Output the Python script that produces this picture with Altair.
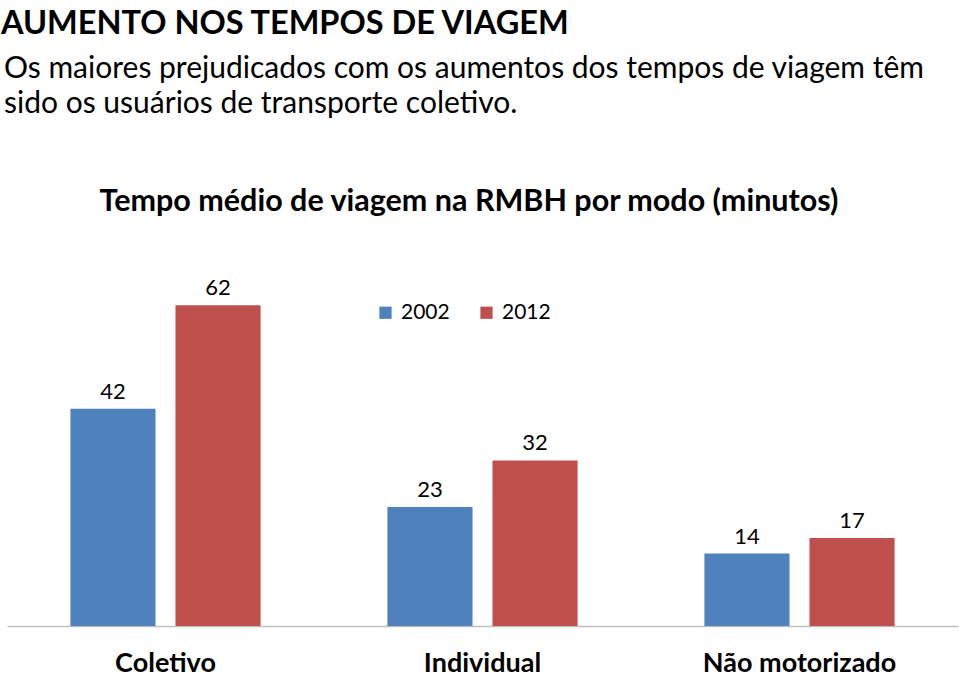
import altair as alt
import pandas as pd

categories = ["Coletivo", "Individual", "Não motorizado"]
years = ["2002", "2012"]
values_2002 = [42, 23, 14]
values_2012 = [62, 32, 17]
colors = ["#4F81BD", "#C0504D"]

title_text = "AUMENTO NOS TEMPOS DE VIAGEM"
subtitle_lines = [
    "Os maiores prejudicados com os aumentos dos tempos de viagem têm",
    "sido os usuários de transporte coletivo.",
]
chart_title = "Tempo médio de viagem na RMBH por modo (minutos)"

FONT = "Lato"

rows = []
for c, a, b in zip(categories, values_2002, values_2012):
    rows.append({"modo": c, "ano": years[0], "valor": a})
    rows.append({"modo": c, "ano": years[1], "valor": b})
df = pd.DataFrame(rows)

x_enc = alt.X(
    "modo:N",
    sort=categories,
    scale=alt.Scale(paddingInner=0.4, paddingOuter=0.2),
    axis=alt.Axis(
        title=None,
        labelAngle=0,
        ticks=False,
        domainColor="#BFBFBF",
        domainWidth=1.5,
        labelFont=FONT,
        labelFontSize=27,
        labelFontWeight="bold",
        labelColor="#000000",
        labelBaseline="alphabetic",
        labelPadding=45,
        labelLimit=0,
    ),
)
xoff = alt.XOffset("ano:N", sort=years, scale=alt.Scale(paddingInner=0.19, paddingOuter=0))
y_enc = alt.Y("valor:Q", scale=alt.Scale(domain=[0, 121], nice=False, zero=True), axis=None)

bars = alt.Chart(df).mark_bar().encode(
    x=x_enc,
    xOffset=xoff,
    y=y_enc,
    color=alt.Color(
        "ano:N",
        sort=years,
        scale=alt.Scale(domain=years, range=colors),
        legend=alt.Legend(
            title=None,
            orient="none",
            legendX=368,
            legendY=302,
            direction="horizontal",
            symbolType="square",
            symbolSize=150,
            symbolStrokeWidth=0,
            labelFont=FONT,
            labelFontSize=21,
            labelColor="#000000",
            labelOffset=5,
            columnPadding=26,
            padding=0,
        ),
    ),
)

labels = alt.Chart(df).mark_text(
    dy=-10, baseline="alphabetic", font=FONT, fontSize=22, color="#000000"
).encode(
    x=alt.X("modo:N", sort=categories),
    xOffset=alt.XOffset("ano:N", sort=years),
    y=alt.Y("valor:Q"),
    text=alt.Text("valor:Q"),
)

t_title = alt.Chart(pd.DataFrame({"t": [title_text]})).mark_text(
    align="left", baseline="alphabetic", font=FONT, fontSize=32.5, fontWeight="bold", color="#000000"
).encode(x=alt.value(-6), y=alt.value(34), text="t:N")

t_sub1 = alt.Chart(pd.DataFrame({"t": [subtitle_lines[0]]})).mark_text(
    align="left", baseline="alphabetic", font=FONT, fontSize=30, color="#000000"
).encode(x=alt.value(-3), y=alt.value(78), text="t:N")

t_sub2 = alt.Chart(pd.DataFrame({"t": [subtitle_lines[1]]})).mark_text(
    align="left", baseline="alphabetic", font=FONT, fontSize=30, color="#000000"
).encode(x=alt.value(-3), y=alt.value(113), text="t:N")

t_chart = alt.Chart(pd.DataFrame({"t": [chart_title]})).mark_text(
    align="center", baseline="alphabetic", font=FONT, fontSize=30.5, fontWeight="bold", color="#000000"
).encode(x=alt.value(462), y=alt.value(211), text="t:N")

chart = alt.layer(bars, labels, t_title, t_sub1, t_sub2, t_chart).resolve_scale(
    x="shared"
).properties(
    width=951,
    height=626,
    padding={"left": 7, "top": 0, "right": 1, "bottom": 51},
    autosize=alt.AutoSizeParams(type="none"),
    background="#FFFFFF",
).configure_view(stroke=None)

chart.save("out.html", embed_options={"renderer": "svg", "actions": False})
